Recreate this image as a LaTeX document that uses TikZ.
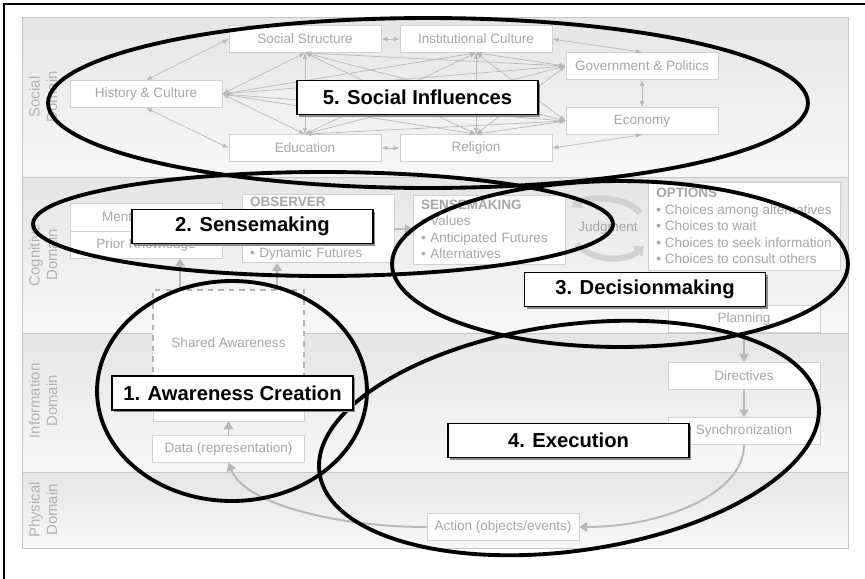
\documentclass[tikz,border=0pt]{standalone}
\usepackage{fontspec}
\setmainfont{Liberation Sans}
\usetikzlibrary{arrows.meta,shadows}

\begin{document}
\begin{tikzpicture}[x=0.02cm,y=-0.02cm,
  band/.style={draw=black!22,top color=black!10,bottom color=black!3},
  dom/.style={text=black!30,font=\fontsize{8.5}{10}\selectfont,align=center,rotate=90},
  box/.style={draw=black!18,fill=white,text=black!35,font=\fontsize{7.7}{9.3}\selectfont,minimum width=3.04cm,minimum height=0.54cm,inner sep=0pt},
  listbox/.style={box,align=left,inner xsep=0.16cm},
  mesh/.style={draw=black!28,line width=0.4pt,<->,>={Latex[length=3.5pt,width=2.6pt]}},
  flow/.style={draw=black!28,line width=1.1pt,->,>={Triangle[length=4.5pt,width=5.5pt]}},
  cyc/.style={draw=black!18,line width=3.5pt,->,>={Triangle[length=5pt,width=8pt]}},
  ring/.style={draw=black,line width=2.2pt},
  tag/.style={draw=black,line width=0.9pt,fill=white,font=\fontsize{11.5}{12}\bfseries\selectfont,minimum width=4.82cm,minimum height=0.68cm,inner sep=0pt,drop shadow={shadow xshift=1.2pt,shadow yshift=-1.2pt,fill=black!45,opacity=1}}]
  \useasboundingbox (0,0) rectangle (865,578);
  \draw[line width=0.8pt] (870,4) -- (4,4) -- (4,585);

  % domain bands
  \draw[band] (22,17) rectangle (848,177);
  \draw[band] (22,177) rectangle (848,333);
  \draw[band] (22,333) rectangle (848,472);
  \draw[band] (22,472) rectangle (848,548);
  \node[dom] (socdom) at (43,97) {Social\\Domain};
  \node[dom] (cogdom) at (43,255) {Cognitive\\Domain};
  \node[dom] (infdom) at (43,401) {Information\\Domain};
  \node[dom] (phydom) at (43,510) {Physical\\Domain};

  % social domain
  \node[box] (ss) at (305,39) {Social Structure};
  \node[box] (ic) at (476,39) {Institutional Culture};
  \node[box] (gov) at (642,66) {Government \& Politics};
  \node[box] (eco) at (642,121) {Economy};
  \node[box] (rel) at (476,148) {Religion};
  \node[box] (edu) at (305,148) {Education};
  \node[box] (hist) at (146,94) {History \& Culture};
  \foreach \a/\b in {hist.east/ss.south, hist.east/ic.south, hist.east/gov.west, hist.east/eco.west, hist.east/rel.north, hist.east/edu.north,
      ss.south/edu.north, ss.south/rel.north, ss.south/gov.west, ss.south/eco.west,
      ic.south/edu.north, ic.south/rel.north, ic.south/eco.west, ic.south/gov.west,
      edu.north/gov.west, edu.north/eco.west, rel.north/gov.west, rel.north/eco.west}
    \draw[mesh] (\a) -- (\b);
  \draw[mesh] (ss) -- (ic);
  \draw[mesh] (edu) -- (rel);
  \draw[mesh] (gov) -- (eco);
  \draw[mesh] (hist.north) -- (ss.west);
  \draw[mesh] (hist.south) -- (edu.west);
  \draw[mesh] (ic.east) -- (gov.north);
  \draw[mesh] (rel.east) -- (eco.south);

  % cognitive domain
  \node[box,minimum height=0.56cm] (mental) at (146,217) {Mental Models};
  \node[box] (prior) at (146,244.5) {Prior Knowledge};
  \node[listbox,text width=2.72cm,minimum height=1.36cm] (obs) at (318,228.5) {{\bfseries OBSERVER}\\[20pt]• Dynamic Futures};
  \node[listbox,text width=2.72cm,minimum height=1.38cm] (sen) at (489,229.5) {{\bfseries SENSEMAKING}\\• Values\\• Anticipated Futures\\• Alternatives};
  \node[listbox,minimum width=3.84cm,minimum height=1.76cm] (opt) at (744,226) {{\bfseries OPTIONS}\\• Choices among alternatives\\• Choices to wait\\• Choices to seek information\\• Choices to consult others};
  \node[text=black!35,font=\fontsize{7.7}{9.3}\selectfont] (judg) at (608,228) {Judgment};
  \draw[cyc] (640,213) .. controls (628,196) and (588,196) .. (572,207);
  \draw[cyc] (577,244) .. controls (592,262) and (626,262) .. (644,246);
  \draw[flow] (obs) -- (sen);
  \node[box] (plan) at (744,319) {Planning};

  % information domain
  \node[box,dashed,draw=black!30,line width=0.8pt,minimum height=2.12cm,minimum width=3.02cm] (shared) at (228.5,343) {};
  \node[text=black!35,font=\fontsize{7.7}{9.3}\selectfont] (sharedtxt) at (228.5,343) {Shared Awareness};
  \node[box,minimum height=0.5cm,minimum width=3.02cm] (awb) at (228.5,408.5) {};
  \coordinate (sa1) at (180,290);
  \coordinate (sa2) at (277,290);
  \draw[flow] (sa1) -- (sa1 |- prior.south);
  \draw[flow] (sa2) -- (sa2 |- obs.south);
  \node[box] (data) at (228.5,449) {Data (representation)};
  \draw[flow] (data) -- (awb);
  \node[box] (dir) at (744,375.5) {Directives};
  \node[box] (sync) at (744,431) {Synchronization};
  \draw[flow] (plan) -- (dir);
  \draw[flow] (dir) -- (sync);

  % physical domain
  \node[box] (act) at (503,527) {Action (objects/events)};
  \draw[flow] (sync.south) .. controls (744,495) and (660,527) .. (act.east);
  \draw[flow] (act.west) .. controls (340,527) and (245,505) .. (data.south);

  % the five processes
  \draw[ring] (428,103) ellipse [x radius=7.6cm, y radius=1.7cm];
  \draw[ring] (323,224) ellipse [x radius=5.8cm, y radius=1.04cm];
  \draw[ring] (620,264) ellipse [x radius=4.56cm, y radius=1.66cm];
  \draw[ring] (232,391) ellipse [x radius=2.7cm, y radius=2.2cm];
  \draw[ring,rotate around={8:(569,438)}] (569,438) ellipse [x radius=5.04cm, y radius=2.26cm];
  \node[tag] (t5) at (417.5,97.5) {5. Social Influences};
  \node[tag] (t2) at (252.5,226.5) {2. Sensemaking};
  \node[tag] (t3) at (645,289.5) {3. Decisionmaking};
  \node[tag] (t1) at (232.5,393) {1. Awareness Creation};
  \node[tag] (t4) at (568.5,440.5) {4. Execution};
\end{tikzpicture}
\end{document}
